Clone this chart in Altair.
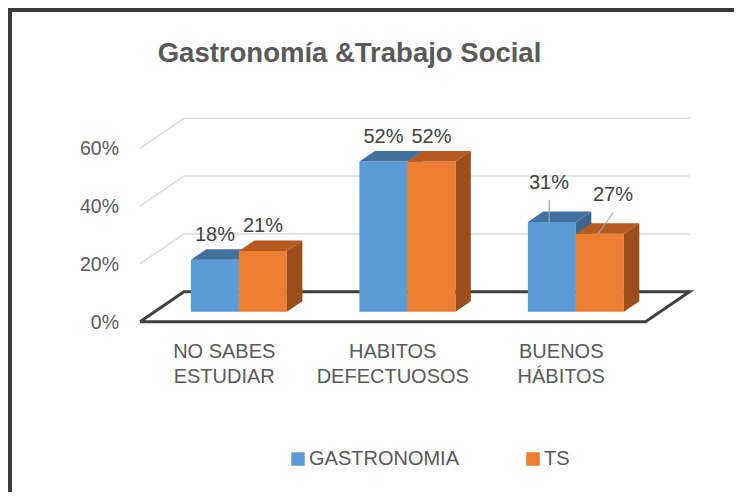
import altair as alt
import pandas as pd

# ---------------- data ----------------
CATEGORIES = ["NO SABES\nESTUDIAR", "HABITOS\nDEFECTUOSOS", "BUENOS\nHÁBITOS"]
SERIES = ["GASTRONOMIA", "TS"]
GASTRONOMIA = [18, 52, 31]
TS = [21, 52, 27]
Y_TICKS = [0, 20, 40, 60]
GRID_TICKS = [20, 40, 60]
TITLE = "Gastronomía &Trabajo Social"

# ---------------- style ----------------
FRONT = {"GASTRONOMIA": "#5B9BD5", "TS": "#ED7D31"}
TOP = {"GASTRONOMIA": "#42719D", "TS": "#B4591F"}
SIDE = {"GASTRONOMIA": "#3A6690", "TS": "#9C4E1A"}
TEXT_GRAY = "#595959"
LABEL_GRAY = "#404040"
FONT = "Liberation Sans"

# ---------------- pseudo-3D projection (layout) ----------------
W, H = 726, 484
U_PX = 168.5          # px per category
K = 2.89              # px per percentage point
DX = 44 / U_PX        # horizontal shift for full floor depth (category units)
DV = 30 / K           # vertical shift for full floor depth (value units)
BAR_W = 0.285
D0, D1 = 1 / 3, 0.683
FLOOR_L, FLOOR_R = -0.5, 2.5
PMIN = -216.25 / U_PX
PMAX = PMIN + W / U_PX
WMIN = -(H - 313.7) / K
WMAX = WMIN + H / K

# data-label placement (offset in category units, lift in value units)
CALLOUT = {
    (2, 0): dict(lab=(-3 / U_PX, 17.0), a=(-2.7 / U_PX, 2.8), b=(-2.7 / U_PX, 11.1)),
    (2, 1): dict(lab=(13 / U_PX, 16.8), a=(-2.7 / U_PX, 3.0), b=(13.3 / U_PX, 10.7)),
}
DEFAULT_LIFT = 12.0

xs = alt.Scale(domain=[PMIN, PMAX], nice=False, zero=False)
ys = alt.Scale(domain=[WMIN, WMAX], nice=False, zero=False)


def X(f="p"):
    return alt.X(f"{f}:Q", scale=xs, axis=None)


def Y(f="w"):
    return alt.Y(f"{f}:Q", scale=ys, axis=None)


# gridlines on the back wall
grid_rows = []
for v in GRID_TICKS:
    pts = [(FLOOR_L, v), (FLOOR_L + DX, v + DV), (FLOOR_R + DX, v + DV)]
    for k, (p, w) in enumerate(pts):
        grid_rows.append(dict(g=v, o=k, p=p, w=w))
grid = alt.Chart(pd.DataFrame(grid_rows)).mark_line(
    color="#D9D9D9", strokeWidth=1.5
).encode(x=X(), y=Y(), detail="g:N", order="o:Q")

# floor outline
floor_pts = [(FLOOR_L, 0), (FLOOR_R, 0), (FLOOR_R + DX, DV), (FLOOR_L + DX, DV), (FLOOR_L, 0)]
floor_df = pd.DataFrame([dict(o=k, p=p, w=w) for k, (p, w) in enumerate(floor_pts)])
floor = alt.Chart(floor_df).mark_line(
    color="#404040", strokeWidth=3, strokeJoin="miter"
).encode(x=X(), y=Y(), order="o:Q")

# bars
bar_layers = []
label_rows, leader_rows = [], []
for j, s in enumerate(SERIES):
    vals = GASTRONOMIA if j == 0 else TS
    front_rows, top_rows, side_rows = [], [], []
    for i, v in enumerate(vals):
        u0 = i - BAR_W + j * BAR_W
        u1 = u0 + BAR_W
        bid = f"{s}-{i}"
        front_rows.append(dict(series=s, p=u0 + D0 * DX, p2=u1 + D0 * DX,
                               w=D0 * DV, w2=v + D0 * DV))
        top_rows += [
            dict(b=bid, p=u0 + D0 * DX, w=v + D0 * DV, w2=v + D0 * DV),
            dict(b=bid, p=u0 + D1 * DX, w=v + D0 * DV, w2=v + D1 * DV),
            dict(b=bid, p=u1 + D0 * DX, w=v + D0 * DV, w2=v + D1 * DV),
            dict(b=bid, p=u1 + D1 * DX, w=v + D1 * DV, w2=v + D1 * DV),
        ]
        side_rows += [
            dict(b=bid, p=u1 + D0 * DX, w=D0 * DV, w2=v + D0 * DV),
            dict(b=bid, p=u1 + D1 * DX, w=D1 * DV, w2=v + D1 * DV),
        ]
        cx = (u0 + u1) / 2 + D0 * DX
        c = CALLOUT.get((i, j))
        if c:
            label_rows.append(dict(p=cx + c["lab"][0], w=v + c["lab"][1], t=f"{v}%"))
            leader_rows.append(dict(p=cx + c["a"][0], w=v + c["a"][1],
                                    p2=cx + c["b"][0], w2=v + c["b"][1]))
        else:
            label_rows.append(dict(p=cx, w=v + DEFAULT_LIFT, t=f"{v}%"))
    side = alt.Chart(pd.DataFrame(side_rows)).mark_area(
        color=SIDE[s], opacity=1
    ).encode(x=X(), y=Y(), y2="w2:Q", detail="b:N")
    front = alt.Chart(pd.DataFrame(front_rows)).mark_rect().encode(
        x=X(), x2="p2:Q", y=Y(), y2="w2:Q",
        color=alt.Color(
            "series:N",
            scale=alt.Scale(domain=SERIES, range=[FRONT[k] for k in SERIES]),
            legend=alt.Legend(
                title=None, orient="none", legendX=280, legendY=441,
                direction="horizontal", symbolType="square", symbolSize=182,
                symbolStrokeWidth=0, labelFontSize=20, labelFont=FONT,
                labelColor=TEXT_GRAY, columnPadding=63, labelOffset=1,
                padding=0,
            ),
        ),
    )
    top = alt.Chart(pd.DataFrame(top_rows)).mark_area(
        color=TOP[s], opacity=1
    ).encode(x=X(), y=Y(), y2="w2:Q", detail="b:N")
    bar_layers += [side, front, top]

leaders = alt.Chart(pd.DataFrame(leader_rows)).mark_rule(
    color="#A6A6A6", strokeWidth=1.2
).encode(x=X(), y=Y(), x2="p2:Q", y2="w2:Q")

labels = alt.Chart(pd.DataFrame(label_rows)).mark_text(
    font=FONT, fontSize=20, color=LABEL_GRAY, baseline="middle", align="center"
).encode(x=X(), y=Y(), text="t:N")

ytick_df = pd.DataFrame(dict(w=Y_TICKS, t=[f"{v}%" for v in Y_TICKS]))
yticks = alt.Chart(ytick_df).mark_text(
    font=FONT, fontSize=19.5, color=TEXT_GRAY, align="right", baseline="middle", dy=1
).encode(x=alt.value(111), y=Y(), text="t:N")

cat_df = pd.DataFrame(dict(p=list(range(len(CATEGORIES))), t=CATEGORIES))
cats = alt.Chart(cat_df).mark_text(
    font=FONT, fontSize=20, color=TEXT_GRAY, align="center",
    baseline="middle", lineBreak="\n", lineHeight=25
).encode(x=X(), y=alt.value(344), text="t:N")

title = alt.Chart(pd.DataFrame(dict(t=[TITLE]))).mark_text(
    font=FONT, fontSize=27.5, fontWeight="bold", color=TEXT_GRAY,
    align="center", baseline="middle"
).encode(x=alt.value(341.5), y=alt.value(46), text="t:N")

one = pd.DataFrame(dict(a=[0]))
border_l = alt.Chart(one).mark_rule(color="#3C3C3C", strokeWidth=4).encode(
    x=alt.value(2), y=alt.value(0), y2=alt.value(H))
border_t = alt.Chart(one).mark_rule(color="#3C3C3C", strokeWidth=4).encode(
    y=alt.value(2), x=alt.value(0), x2=alt.value(W))

chart = alt.layer(
    grid, floor, *bar_layers, leaders, labels, yticks, cats, title, border_l, border_t
).properties(
    width=W, height=H, padding=0, autosize=alt.AutoSizeParams(type="none"),
    background="white",
).configure_view(stroke=None)

chart.save("out.html", embed_options={"renderer": "svg", "actions": False})
